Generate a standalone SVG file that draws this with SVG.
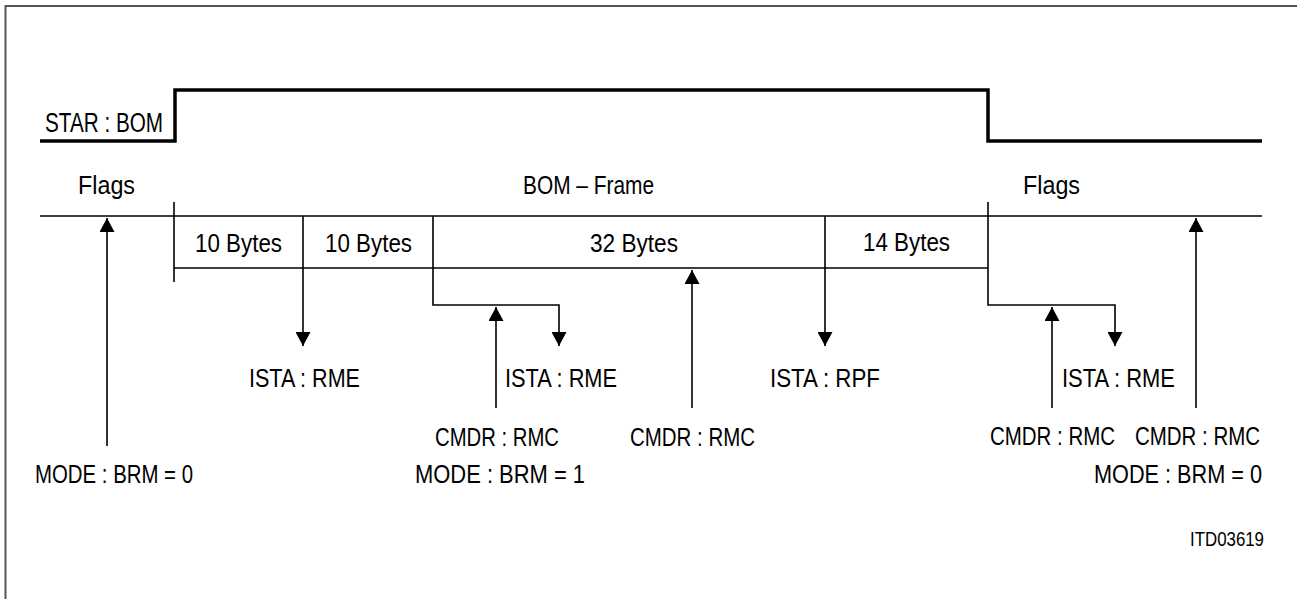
<svg xmlns="http://www.w3.org/2000/svg" width="1297" height="599" viewBox="0 0 1297 599">
<style>
text{font-family:"Liberation Sans",Arial,sans-serif;font-size:26px;fill:#000}
.big{font-size:27px}
.small{font-size:20px}
.ln{fill:none;stroke:#000;stroke-width:1.6}
.sig{fill:none;stroke:#000;stroke-width:3.5}
.brd{fill:none;stroke:#555;stroke-width:2}
</style>
<defs>
<marker id="ah" viewBox="0 0 14 15" refX="14" refY="7.5" markerWidth="14" markerHeight="15" markerUnits="userSpaceOnUse" orient="auto">
<path d="M0,0 L14,7.5 L0,15 z" fill="#000"/>
</marker>
</defs>
<rect width="1297" height="599" fill="#fff"/>
<path class="brd" d="M5.5,599 V6 H1297"/>
<g id="signal">
<polyline class="sig" points="40,141 175,141 175,90 988,90 988,141 1262,141"/>
<text class="big" x="45" y="132" textLength="118" lengthAdjust="spacingAndGlyphs">STAR : BOM</text>
</g>
<g id="frame">
<line class="ln" x1="40" y1="216" x2="1262" y2="216"/>
<line class="ln" x1="174" y1="202" x2="174" y2="282"/>
<line class="ln" x1="174" y1="268" x2="988" y2="268"/>
<text x="78" y="194" textLength="57" lengthAdjust="spacingAndGlyphs">Flags</text>
<text x="523" y="194" textLength="131" lengthAdjust="spacingAndGlyphs">BOM – Frame</text>
<text x="1023" y="194" textLength="57" lengthAdjust="spacingAndGlyphs">Flags</text>
<text x="195" y="252" textLength="87" lengthAdjust="spacingAndGlyphs">10 Bytes</text>
<text x="325" y="252" textLength="87" lengthAdjust="spacingAndGlyphs">10 Bytes</text>
<text x="590" y="252" textLength="88" lengthAdjust="spacingAndGlyphs">32 Bytes</text>
<text x="863" y="251" textLength="87" lengthAdjust="spacingAndGlyphs">14 Bytes</text>
</g>
<g id="connectors">
<polyline class="ln" points="303,216 303,346" marker-end="url(#ah)"/>
<polyline class="ln" points="433,216 433,305 559,305 559,346" marker-end="url(#ah)"/>
<polyline class="ln" points="825,216 825,346" marker-end="url(#ah)"/>
<polyline class="ln" points="988,202 988,305 1115,305 1115,346" marker-end="url(#ah)"/>
<polyline class="ln" points="107,446 107,218" marker-end="url(#ah)"/>
<polyline class="ln" points="496,408 496,307" marker-end="url(#ah)"/>
<polyline class="ln" points="692,408 692,270" marker-end="url(#ah)"/>
<polyline class="ln" points="1052,408 1052,307" marker-end="url(#ah)"/>
<polyline class="ln" points="1196,408 1196,218" marker-end="url(#ah)"/>
</g>
<g id="labels">
<text x="249" y="387" textLength="111" lengthAdjust="spacingAndGlyphs">ISTA : RME</text>
<text x="505" y="387" textLength="112" lengthAdjust="spacingAndGlyphs">ISTA : RME</text>
<text x="770" y="387" textLength="110" lengthAdjust="spacingAndGlyphs">ISTA : RPF</text>
<text x="1062" y="387" textLength="113" lengthAdjust="spacingAndGlyphs">ISTA : RME</text>
<text x="435" y="446" textLength="124" lengthAdjust="spacingAndGlyphs">CMDR : RMC</text>
<text x="630" y="446" textLength="125" lengthAdjust="spacingAndGlyphs">CMDR : RMC</text>
<text x="990" y="445" textLength="125" lengthAdjust="spacingAndGlyphs">CMDR : RMC</text>
<text x="1135" y="445" textLength="125" lengthAdjust="spacingAndGlyphs">CMDR : RMC</text>
<text x="35" y="483" textLength="158" lengthAdjust="spacingAndGlyphs">MODE : BRM = 0</text>
<text x="415" y="483" textLength="170" lengthAdjust="spacingAndGlyphs">MODE : BRM = 1</text>
<text x="1094" y="483" textLength="168" lengthAdjust="spacingAndGlyphs">MODE : BRM = 0</text>
<text class="small" x="1190" y="546" textLength="74" lengthAdjust="spacingAndGlyphs">ITD03619</text>
</g>
</svg>
